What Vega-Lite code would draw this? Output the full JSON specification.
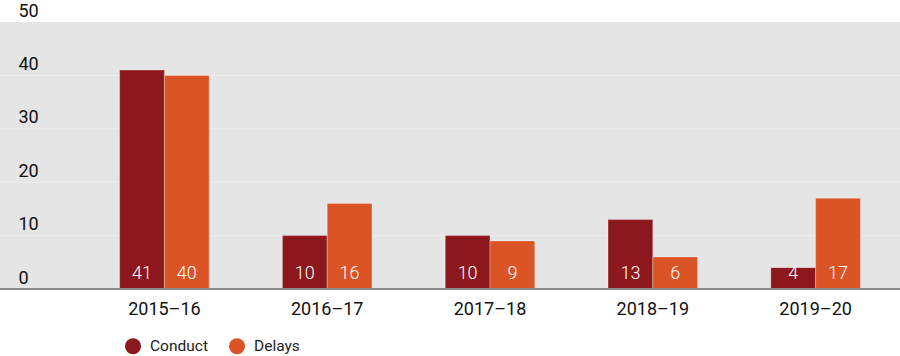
{
  "$schema": "https://vega.github.io/schema/vega-lite/v6.json",
  "width": 900,
  "height": 267,
  "autosize": "none",
  "padding": {"left": 0, "top": 22, "right": 0, "bottom": 67},
  "background": "white",
  "config": {
    "font": "Roboto",
    "view": {"fill": "#e5e5e5", "stroke": null},
    "axis": {"title": null},
    "axisX": {
      "labelAngle": 0,
      "labelFont": "Roboto",
      "labelFontSize": 18,
      "labelColor": "#111",
      "labelPadding": 11,
      "ticks": false,
      "domain": false,
      "grid": false
    }
  },
  "layer": [
    {
      "data": {"values": [{"g": 10}, {"g": 20}, {"g": 30}, {"g": 40}]},
      "mark": {"type": "rule", "color": "#eeeeee", "strokeWidth": 1},
      "encoding": {
        "y": {
          "field": "g",
          "type": "quantitative",
          "scale": {"domain": [0, 50]},
          "axis": {
            "title": null,
            "values": [0, 10, 20, 30, 40, 50],
            "ticks": false,
            "domain": false,
            "grid": false,
            "offset": -18,
            "labelAlign": "left",
            "labelBaseline": "alphabetic",
            "labelPadding": 0,
            "labelOffset": -6,
            "labelFont": "Roboto",
            "labelFontSize": 18,
            "labelColor": "#111"
          }
        }
      }
    },
    {
      "data": {
        "values": [
          {"year": "2015–16", "type": "Conduct", "value": 41},
          {"year": "2015–16", "type": "Delays", "value": 40},
          {"year": "2016–17", "type": "Conduct", "value": 10},
          {"year": "2016–17", "type": "Delays", "value": 16},
          {"year": "2017–18", "type": "Conduct", "value": 10},
          {"year": "2017–18", "type": "Delays", "value": 9},
          {"year": "2018–19", "type": "Conduct", "value": 13},
          {"year": "2018–19", "type": "Delays", "value": 6},
          {"year": "2019–20", "type": "Conduct", "value": 4},
          {"year": "2019–20", "type": "Delays", "value": 17}
        ]
      },
      "encoding": {
        "x": {
          "field": "year",
          "type": "nominal",
          "sort": null,
          "scale": {"range": [83, 897], "paddingInner": 0.45, "paddingOuter": 0.225}
        },
        "xOffset": {"field": "type", "type": "nominal", "scale": {"paddingInner": 0}}
      },
      "layer": [
        {
          "mark": {"type": "bar", "stroke": "#ffffff", "strokeWidth": 0.6, "strokeOpacity": 0.5},
          "encoding": {
            "y": {"field": "value", "type": "quantitative"},
            "color": {
              "field": "type",
              "type": "nominal",
              "scale": {"domain": ["Conduct", "Delays"], "range": ["#8c171c", "#da5426"]},
              "legend": {
                "title": null,
                "orient": "none",
                "direction": "horizontal",
                "legendX": 125,
                "legendY": 316,
                "symbolType": "circle",
                "symbolSize": 256,
                "symbolStrokeWidth": 0,
                "labelFont": "Roboto",
                "labelFontSize": 15.5,
                "labelColor": "#222",
                "labelOffset": 9,
                "columnPadding": 21,
                "padding": 0
              }
            }
          }
        },
        {
          "mark": {"type": "text", "color": "white", "baseline": "alphabetic", "dy": -10, "fontSize": 18, "font": "Roboto", "fontWeight": 300},
          "encoding": {
            "y": {"datum": 0, "type": "quantitative"},
            "text": {"field": "value", "type": "quantitative"}
          }
        }
      ]
    },
    {
      "data": {"values": [{"base": 0}]},
      "mark": {"type": "rule", "color": "#8a8a8a", "strokeWidth": 2},
      "encoding": {"y": {"field": "base", "type": "quantitative"}}
    }
  ]
}
